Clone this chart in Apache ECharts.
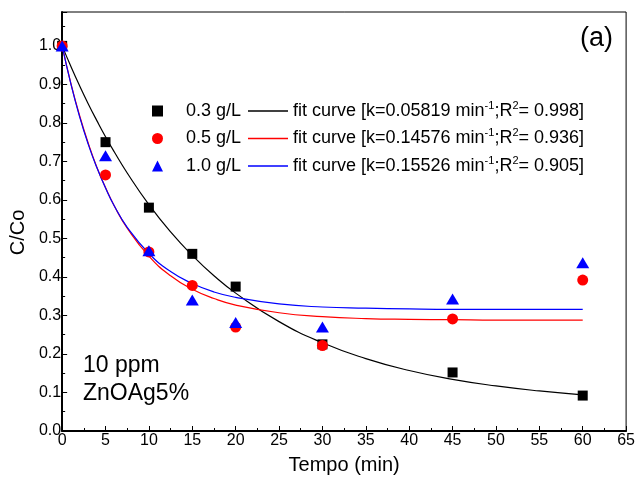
<!DOCTYPE html>
<html><head><meta charset="utf-8">
<script src="https://cdn.jsdelivr.net/npm/echarts@6/dist/echarts.min.js"></script>
<style>html,body{margin:0;padding:0;background:#fff}#c{width:638px;height:480px}</style>
</head><body><div id="c"></div>
<script>
// Measured data points
var tData = [0, 5, 10, 15, 20, 30, 45, 60];
var black03 = [1.0, 0.75, 0.58, 0.46, 0.375, 0.225, 0.152, 0.092];
var red05 = [1.0, 0.665, 0.465, 0.378, 0.27, 0.222, 0.291, 0.392];
var blue10 = [1.0, 0.715, 0.468, 0.34, 0.282, 0.27, 0.343, 0.437];
// Fit curves
var tFit = [0, 1, 2, 3, 4, 5, 6, 7.5, 10, 12.5, 15, 17.5, 20, 25, 30, 35, 40, 45, 50, 55, 60];
var fitBlack = [1.0, 0.947, 0.897, 0.850, 0.806, 0.764, 0.725, 0.670, 0.588, 0.517, 0.456, 0.403, 0.358, 0.284, 0.229, 0.188, 0.157, 0.134, 0.117, 0.104, 0.094];
var fitRed = [1.0, 0.903, 0.820, 0.748, 0.685, 0.632, 0.585, 0.527, 0.454, 0.403, 0.368, 0.344, 0.327, 0.307, 0.297, 0.292, 0.290, 0.289, 0.288, 0.288, 0.288];
var fitBlue = [1.0, 0.902, 0.817, 0.745, 0.684, 0.631, 0.585, 0.529, 0.461, 0.414, 0.383, 0.361, 0.347, 0.330, 0.322, 0.319, 0.317, 0.316, 0.316, 0.316, 0.316];
var pointNames = ['0.3 g/L', '0.5 g/L', '1.0 g/L'];
var fitNames = ['fit curve [k=0.05819 min-1;R2= 0.998]', 'fit curve [k=0.14576 min-1;R2= 0.936]', 'fit curve [k=0.15526 min-1;R2= 0.905]'];
var fitRich = ['fit curve [k=0.05819 min{s|-1};R{s|2}= 0.998]', 'fit curve [k=0.14576 min{s|-1};R{s|2}= 0.936]', 'fit curve [k=0.15526 min{s|-1};R{s|2}= 0.905]'];
var xTicks = {min: 0, max: 65, interval: 5};
var yTicks = {min: 0, max: 1.088, interval: 0.1};

function pairs(xs, ys) { return xs.map(function (x, i) { return [x, ys[i]]; }); }
var F = "'Liberation Sans', Arial, sans-serif";
var chart = echarts.init(document.getElementById('c'), null, {renderer: 'canvas'});
chart.setOption({
  animation: false,
  backgroundColor: '#fff',
  grid: {left: 61, right: 10, top: 12, bottom: 47, show: true, borderColor: '#000', borderWidth: 1, backgroundColor: 'transparent'},
  xAxis: {
    type: 'value', min: xTicks.min, max: xTicks.max, interval: xTicks.interval,
    name: 'Tempo (min)', nameLocation: 'middle', nameGap: 24,
    nameTextStyle: {fontFamily: F, fontSize: 20, color: '#000'},
    axisLine: {lineStyle: {color: '#000', width: 2}},
    axisTick: {inside: true, length: 5, lineStyle: {color: '#000'}},
    minorTick: {show: true, splitNumber: 2, length: 3, lineStyle: {color: '#000'}},
    splitLine: {show: false},
    axisLabel: {fontFamily: F, fontSize: 16, color: '#000', margin: 2}
  },
  yAxis: {
    type: 'value', min: yTicks.min, max: yTicks.max, interval: yTicks.interval,
    name: 'C/Co', nameLocation: 'middle', nameGap: 30,
    nameTextStyle: {fontFamily: F, fontSize: 20, color: '#000', padding: [0, 22, 0, 0]},
    axisLine: {lineStyle: {color: '#000', width: 2}},
    axisTick: {inside: true, length: 5, lineStyle: {color: '#000'}},
    minorTick: {show: true, splitNumber: 2, length: 3, lineStyle: {color: '#000'}},
    splitLine: {show: false},
    axisLabel: {fontFamily: F, fontSize: 16, color: '#000', margin: 1,
      formatter: function (v) { var r = Math.round(v * 10); return Math.abs(v * 10 - r) < 1e-6 ? (r / 10).toFixed(1) : ''; }}
  },
  legend: [
    {
      data: pointNames, orient: 'vertical', selectedMode: false, left: 147, top: 95, itemGap: 5.5,
      itemWidth: 11, itemHeight: 11,
      textStyle: {fontFamily: F, fontSize: 18, lineHeight: 22, color: '#000', padding: [0, 0, 0, 18]}
    },
    {
      data: fitNames.map(function (n) { return {name: n, icon: 'rect'}; }),
      orient: 'vertical', selectedMode: false, left: 243, top: 95, itemGap: 5.5,
      itemWidth: 40, itemHeight: 1.3,
      textStyle: {fontFamily: F, fontSize: 18, lineHeight: 22, color: '#000',
        rich: {s: {fontFamily: F, fontSize: 11, lineHeight: 12, verticalAlign: 'top', color: '#000'}}},
      formatter: function (n) { return fitRich[fitNames.indexOf(n)]; }
    }
  ],
  graphic: [
    {type: 'text', left: 83, top: 354, style: {text: '10 ppm', fontFamily: F, fontSize: 23, fill: '#000'}},
    {type: 'text', left: 83, top: 382, style: {text: 'ZnOAg5%', fontFamily: F, fontSize: 23, fill: '#000'}},
    {type: 'text', left: 580, top: 25, style: {text: '(a)', fontFamily: F, fontSize: 27, fill: '#000'}}
  ],
  series: [
    {name: fitNames[0], type: 'line', data: pairs(tFit, fitBlack), smooth: true, symbol: 'none', lineStyle: {color: '#000', width: 1.2}, itemStyle: {color: '#000'}, z: 2},
    {name: fitNames[1], type: 'line', data: pairs(tFit, fitRed), smooth: true, symbol: 'none', lineStyle: {color: '#ff0000', width: 1.2}, itemStyle: {color: '#ff0000'}, z: 2},
    {name: fitNames[2], type: 'line', data: pairs(tFit, fitBlue), smooth: true, symbol: 'none', lineStyle: {color: '#0000ff', width: 1.2}, itemStyle: {color: '#0000ff'}, z: 2},
    {name: pointNames[0], type: 'scatter', data: pairs(tData, black03), symbol: 'rect', symbolSize: 10, itemStyle: {color: '#000', opacity: 1}, z: 3},
    {name: pointNames[1], type: 'scatter', data: pairs(tData, red05), symbol: 'circle', symbolSize: 11, itemStyle: {color: '#ff0000', opacity: 1}, z: 4},
    {name: pointNames[2], type: 'scatter', data: pairs(tData, blue10), symbol: 'triangle', symbolSize: [13, 11], itemStyle: {color: '#0000ff', opacity: 1}, z: 5}
  ]
});
</script></body></html>
